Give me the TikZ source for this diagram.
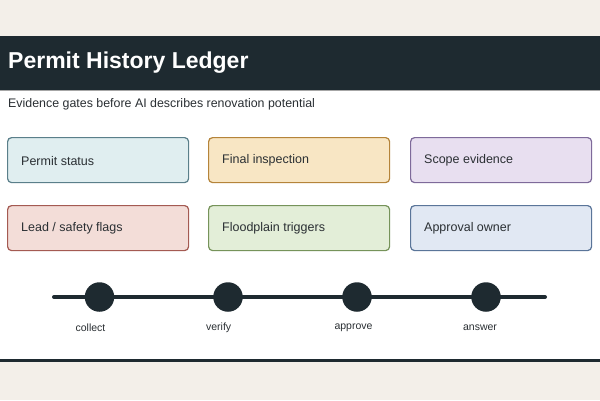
\documentclass[tikz,border=0pt]{standalone}
\usepackage{fontspec}
\setmainfont{Liberation Sans}
\definecolor{bg}{HTML}{F3EFE9}
\definecolor{dark}{HTML}{1E2A30}
\definecolor{txt}{HTML}{2A2F33}
\definecolor{f1}{HTML}{E0EEF0}\definecolor{s1}{HTML}{5A7F8A}
\definecolor{f2}{HTML}{F8E6C4}\definecolor{s2}{HTML}{B5843A}
\definecolor{f3}{HTML}{E8DFF0}\definecolor{s3}{HTML}{7E6A9A}
\definecolor{f4}{HTML}{F3DDD8}\definecolor{s4}{HTML}{A45A52}
\definecolor{f5}{HTML}{E3EED8}\definecolor{s5}{HTML}{76935A}
\definecolor{f6}{HTML}{E1E8F3}\definecolor{s6}{HTML}{5A7599}
\tikzset{
  card/.style={rectangle, rounded corners=4pt, line width=1.2pt, minimum width=181pt, minimum height=45pt, anchor=north west, inner sep=0pt},
  cardtext/.style={anchor=west, font=\fontsize{12.5}{15}\selectfont, text=txt, inner sep=0pt},
  dot/.style={circle, fill=dark, minimum size=29.5pt, inner sep=0pt},
  steplabel/.style={font=\fontsize{10.5}{12}\selectfont, text=txt, inner sep=0pt}
}
\begin{document}
\begin{tikzpicture}[x=1pt,y=-1pt]
\useasboundingbox (0,0) rectangle (600,400);
\fill[bg] (0,0) rectangle (600,400);
\fill[white] (0,90) rectangle (600,360);
\fill[dark] (0,36) rectangle (600,90);
\draw[color=gray!70, line width=0.8pt] (0,90) -- (600,90);
\fill[dark] (0,359) rectangle (600,362);
\node[anchor=west, inner sep=0pt, text=white, font=\fontsize{23}{27}\selectfont\bfseries] (title) at (8,63) {Permit History Ledger};
\node[anchor=west, inner sep=0pt, text=txt, font=\fontsize{12.4}{15}\selectfont] (sub) at (8,104) {Evidence gates before AI describes renovation potential};
% cards
\node[card, fill=f1, draw=s1] (c1) at (7,137) {};
\node[card, fill=f2, draw=s2] (c2) at (208,137) {};
\node[card, fill=f3, draw=s3] (c3) at (410,137) {};
\node[card, fill=f4, draw=s4] (c4) at (7,205) {};
\node[card, fill=f5, draw=s5] (c5) at (208,205) {};
\node[card, fill=f6, draw=s6] (c6) at (410,205) {};
\node[cardtext] (t1) at ([xshift=14pt,yshift=-0.5pt]c1.west) {Permit status};
\node[cardtext] (t2) at ([xshift=14pt,yshift=-0.5pt]c2.west) {Final inspection};
\node[cardtext] (t3) at ([xshift=14pt,yshift=-0.5pt]c3.west) {Scope evidence};
\node[cardtext] (t4) at ([xshift=14pt,yshift=-0.5pt]c4.west) {Lead / safety flags};
\node[cardtext] (t5) at ([xshift=14pt,yshift=-0.5pt]c5.west) {Floodplain triggers};
\node[cardtext] (t6) at ([xshift=14pt,yshift=-0.5pt]c6.west) {Approval owner};
% timeline
\coordinate (ls) at (54,297);
\coordinate (le) at (545,297);
\draw[dark, line width=4pt, line cap=round] (ls) -- (le);
\node[dot] (d1) at (99.5,297) {};
\node[dot] (d2) at (228,297) {};
\node[dot] (d3) at (357,297) {};
\node[dot] (d4) at (486,297) {};
\node[steplabel] (l1) at (90.5,328) {collect};
\node[steplabel] (l2) at (218.7,328) {verify};
\node[steplabel] (l3) at (353.5,328) {approve};
\node[steplabel] (l4) at (480,328) {answer};
\end{tikzpicture}
\end{document}
